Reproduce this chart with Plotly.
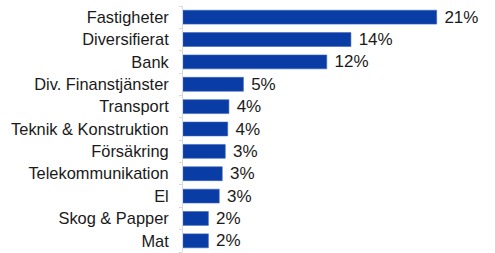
import plotly.graph_objects as go

categories = ["Fastigheter", "Diversifierat", "Bank", "Div. Finanstjänster", "Transport",
              "Teknik & Konstruktion", "Försäkring", "Telekommunikation", "El",
              "Skog & Papper", "Mat"]
values = [21.0, 13.9, 11.9, 5.0, 3.8, 3.7, 3.5, 3.25, 3.0, 2.1, 2.1]
value_labels = ["21%", "14%", "12%", "5%", "4%", "4%", "3%", "3%", "3%", "2%", "2%"]

fig = go.Figure(go.Bar(
    x=values,
    y=categories,
    orientation="h",
    marker=dict(color="#0a3ca6", line=dict(color="#3a64bb", width=0.6)),
    text=value_labels,
    texttemplate="\u00a0%{text}",
    textposition="outside",
    constraintext="none",
    textfont=dict(family="Liberation Sans, Arial, sans-serif", size=17, color="#1a1a1a"),
    cliponaxis=False,
    hoverinfo="skip",
))

fig.update_layout(
    width=495, height=253,
    margin=dict(l=183, r=9.5, t=6, b=1),
    paper_bgcolor="white",
    plot_bgcolor="white",
    bargap=0.38,
    showlegend=False,
    font=dict(family="Liberation Sans, Arial, sans-serif", size=16, color="#1a1a1a"),
    xaxis=dict(range=[0, 25], visible=False, fixedrange=True),
    yaxis=dict(
        categoryorder="array",
        categoryarray=categories[::-1],
        showline=True, linecolor="#d9d9d9", linewidth=1,
        ticks="outside", tickson="boundaries", ticklen=3, tickcolor="#d9d9d9",
        ticklabelstandoff=10,
        tickfont=dict(size=16.4, color="#1a1a1a"),
        showgrid=False, zeroline=False, fixedrange=True,
    ),
)

fig.write_html("out.html", config={"displayModeBar": False, "staticPlot": True},
               post_script="document.body.style.margin='0';")
